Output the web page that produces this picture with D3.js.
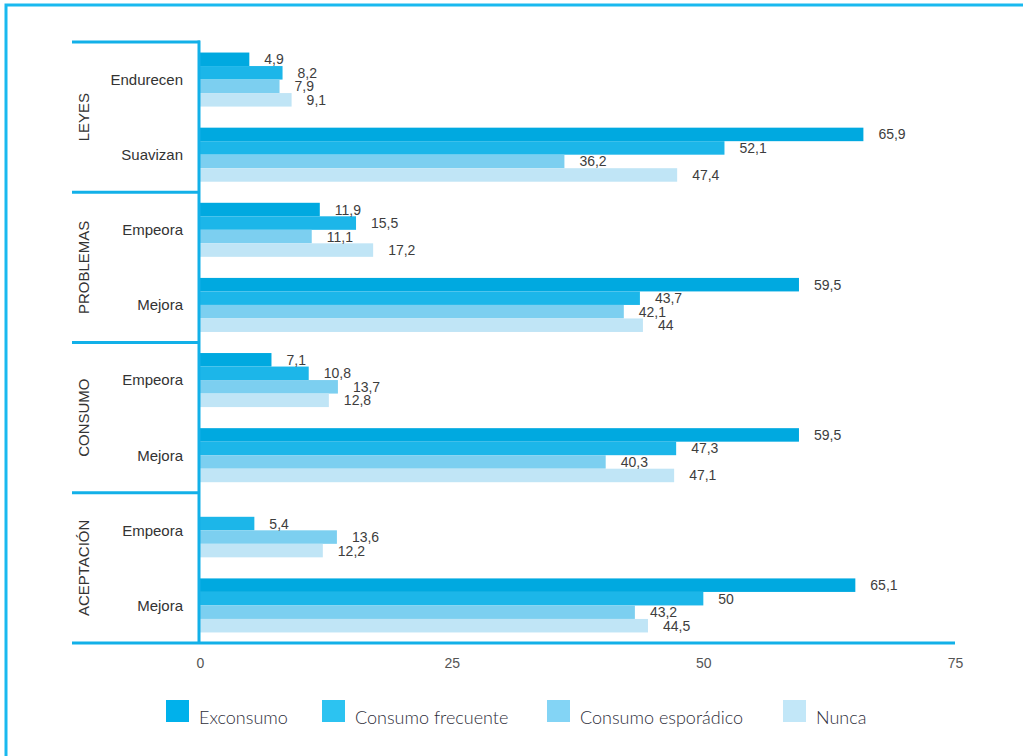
<!DOCTYPE html>
<html>
<head>
<meta charset="utf-8">
<script src="https://cdn.jsdelivr.net/npm/d3@7"></script>
<style>
  html, body { margin: 0; padding: 0; background: #fff; }
  #chart { width: 1023px; height: 756px; }
  svg text { font-family: "Liberation Sans", Arial, Helvetica, sans-serif; }
  svg .legend text { font-family: Lato, "Noto Sans", sans-serif; }
</style>
</head>
<body>
<div id="chart"></div>
<script>
// Data
const sections = ['LEYES', 'PROBLEMAS', 'CONSUMO', 'ACEPTACIÓN'];
const subLabels = [
  ['Endurecen', 'Suavizan'],
  ['Empeora', 'Mejora'],
  ['Empeora', 'Mejora'],
  ['Empeora', 'Mejora']
];
const seriesNames = ['Exconsumo', 'Consumo frecuente', 'Consumo esporádico', 'Nunca'];
const exconsumo  = [4.9, 65.9, 11.9, 59.5, 7.1, 59.5, null, 65.1];
const frecuente  = [8.2, 52.1, 15.5, 43.7, 10.8, 47.3, 5.4, 50];
const esporadico = [7.9, 36.2, 11.1, 42.1, 13.7, 40.3, 13.6, 43.2];
const nunca      = [9.1, 47.4, 17.2, 44, 12.8, 47.1, 12.2, 44.5];
const xTicks = [0, 25, 50, 75];

const seriesValues = [exconsumo, frecuente, esporadico, nunca];
const barColors = ['#00a9e0', '#1cb6e9', '#7ccff0', '#c0e5f6'];
const legendColors = ['#00b1eb', '#2cc3f1', '#83d4f5', '#c2e7f8'];
const lineColor = '#12b0e8';

(function () {
  const svg = d3.select('#chart').append('svg')
    .attr('width', 1023)
    .attr('height', 756);

  // Outer frame (top + left only visible)
  svg.append('path')
    .attr('d', 'M6,760 L6,5 L1030,5')
    .attr('fill', 'none')
    .attr('stroke', '#19b9ef')
    .attr('stroke-width', 3);

  const x0 = 200, x1 = 955, yTop = 42, yBot = 643, leftEdge = 72;

  const x = d3.scaleLinear().domain([0, 75]).range([x0, x1]);
  const ySec = d3.scaleBand().domain(d3.range(sections.length)).range([yTop, yBot]);
  const ySub = d3.scaleBand().domain([0, 1]).range([0, ySec.bandwidth()]);
  const ySer = d3.scaleBand().domain(d3.range(seriesNames.length))
    .range([0, ySub.bandwidth()]).paddingInner(0).paddingOuter(0.78);

  const color = d3.scaleOrdinal().domain(d3.range(4)).range(barColors);

  const fmt = v => String(v).replace('.', ',');

  // Flatten bars
  const bars = [];
  sections.forEach((s, si) => {
    [0, 1].forEach(k => {
      const row = si * 2 + k;
      seriesValues.forEach((vals, j) => {
        const v = vals[row];
        if (v == null) return;
        bars.push({ si, k, j, v, y: ySec(si) + ySub(k) + ySer(j) });
      });
    });
  });

  const g = svg.append('g');

  g.selectAll('rect.bar')
    .data(bars)
    .enter()
    .append('rect')
    .attr('class', 'bar')
    .attr('x', x(0))
    .attr('y', d => d.y)
    .attr('width', d => x(d.v) - x(0))
    .attr('height', ySer.bandwidth())
    .attr('fill', d => color(d.j));

  g.selectAll('text.val')
    .data(bars)
    .enter()
    .append('text')
    .attr('class', 'val')
    .attr('x', d => x(d.v) + 15)
    .attr('y', d => d.y + ySer.bandwidth() / 2)
    .attr('dy', '0.36em')
    .style('font-size', '14px')
    .attr('fill', '#3d3d3d')
    .text(d => fmt(d.v));

  // Separator lines on the left
  g.selectAll('line.sep')
    .data(d3.range(sections.length))
    .enter()
    .append('line')
    .attr('x1', leftEdge)
    .attr('x2', x0)
    .attr('y1', d => ySec(d))
    .attr('y2', d => ySec(d))
    .attr('stroke', lineColor)
    .attr('stroke-width', 3);

  // Vertical baseline
  g.append('line')
    .attr('x1', x0 - 1).attr('x2', x0 - 1)
    .attr('y1', yTop - 1.5).attr('y2', yBot)
    .attr('stroke', lineColor)
    .attr('stroke-width', 3);

  // Bottom axis line
  g.append('line')
    .attr('x1', leftEdge).attr('x2', x1)
    .attr('y1', yBot).attr('y2', yBot)
    .attr('stroke', lineColor)
    .attr('stroke-width', 3);

  // Section labels (rotated)
  g.selectAll('text.sec')
    .data(sections)
    .enter()
    .append('text')
    .attr('class', 'sec')
    .attr('transform', (d, i) => `translate(89,${ySec(i) + ySec.bandwidth() / 2}) rotate(-90)`)
    .attr('text-anchor', 'middle')
    .style('font-size', '15px')
    .attr('fill', '#333')
    .text(d => d);

  // Sub labels
  const subs = [];
  subLabels.forEach((pair, si) => pair.forEach((t, k) => subs.push({ si, k, t })));
  g.selectAll('text.sub')
    .data(subs)
    .enter()
    .append('text')
    .attr('class', 'sub')
    .attr('x', 183)
    .attr('y', d => ySec(d.si) + ySub(d.k) + ySub.bandwidth() / 2)
    .attr('dy', '0.36em')
    .attr('text-anchor', 'end')
    .style('font-size', '15px')
    .attr('fill', '#333')
    .text(d => d.t);

  // X axis ticks
  const axis = d3.axisBottom(x).tickValues(xTicks).tickSize(0).tickPadding(15)
    .tickFormat(d3.format('d'));
  const ax = svg.append('g')
    .attr('transform', `translate(0,${yBot})`)
    .call(axis);
  ax.select('.domain').remove();
  ax.selectAll('text')
    .style('font-size', '14px')
    .attr('fill', '#555');

  // Legend
  const legendX = [166, 322, 547, 783];
  const lg = svg.append('g').attr('class', 'legend');
  const items = lg.selectAll('g')
    .data(seriesNames)
    .enter()
    .append('g')
    .attr('transform', (d, i) => `translate(${legendX[i]},700)`);
  items.append('rect')
    .attr('width', 23)
    .attr('height', 22)
    .attr('fill', (d, i) => legendColors[i]);
  items.append('text')
    .attr('x', 33)
    .attr('y', 18)
    .attr('dy', '0.36em')
    .style('font-size', '18px')
    .style('font-weight', 300)
    .attr('fill', '#2e2e3a')
    .text(d => d);
})();
</script>
</body>
</html>
